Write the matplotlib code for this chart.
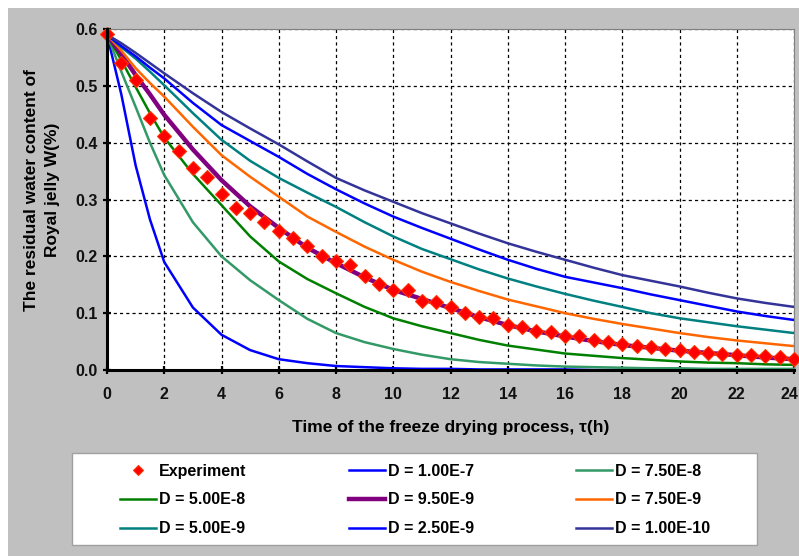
import matplotlib
matplotlib.use("Agg")
import matplotlib.pyplot as plt
import matplotlib.transforms as mtransforms
from matplotlib.patches import Rectangle

# --- DATA ---
hours = [0, 0.5, 1, 1.5, 2, 3, 4, 5, 6, 7, 8, 9, 10, 11, 12,
         13, 14, 15, 16, 17, 18, 19, 20, 21, 22, 23, 24]

w_d_1e7 = [0.590, 0.485, 0.360, 0.265, 0.190, 0.110, 0.062, 0.035, 0.019, 0.012, 0.007, 0.005, 0.003, 0.002,
           0.002, 0.001, 0.001, 0.001, 0.001, 0.000, 0.000, 0.000, 0.000, 0.000, 0.000, 0.000, 0.000]
w_d_75e8 = [0.590, 0.525, 0.463, 0.400, 0.343, 0.260, 0.200, 0.158, 0.123, 0.090, 0.065, 0.049, 0.037, 0.027,
            0.019, 0.014, 0.011, 0.008, 0.006, 0.005, 0.004, 0.003, 0.003, 0.002, 0.002, 0.002, 0.002]
w_d_5e8 = [0.590, 0.545, 0.498, 0.452, 0.409, 0.345, 0.290, 0.235, 0.191, 0.160, 0.135, 0.111, 0.091, 0.077,
           0.065, 0.053, 0.043, 0.036, 0.029, 0.025, 0.021, 0.018, 0.015, 0.013, 0.012, 0.010, 0.009]
w_d_95e9 = [0.590, 0.556, 0.519, 0.485, 0.449, 0.388, 0.334, 0.288, 0.250, 0.215, 0.188, 0.163, 0.141, 0.125,
            0.109, 0.093, 0.079, 0.068, 0.059, 0.051, 0.044, 0.039, 0.034, 0.030, 0.026, 0.022, 0.019]
w_d_75e9 = [0.590, 0.562, 0.531, 0.505, 0.481, 0.428, 0.378, 0.340, 0.305, 0.270, 0.243, 0.217, 0.194, 0.173,
            0.155, 0.139, 0.124, 0.112, 0.100, 0.090, 0.081, 0.073, 0.065, 0.058, 0.052, 0.047, 0.042]
w_d_5e9 = [0.590, 0.568, 0.548, 0.525, 0.501, 0.452, 0.405, 0.368, 0.338, 0.312, 0.287, 0.260, 0.235, 0.213,
           0.195, 0.177, 0.161, 0.147, 0.134, 0.122, 0.111, 0.100, 0.091, 0.084, 0.077, 0.071, 0.065]
w_d_25e9 = [0.590, 0.570, 0.552, 0.532, 0.513, 0.470, 0.431, 0.403, 0.375, 0.345, 0.318, 0.293, 0.270, 0.250,
            0.231, 0.212, 0.194, 0.178, 0.164, 0.154, 0.144, 0.133, 0.123, 0.113, 0.103, 0.095, 0.088]
w_d_1e10 = [0.590, 0.575, 0.558, 0.540, 0.522, 0.487, 0.454, 0.425, 0.397, 0.367, 0.338, 0.316, 0.296, 0.276,
            0.258, 0.240, 0.223, 0.208, 0.194, 0.180, 0.167, 0.157, 0.147, 0.136, 0.126, 0.118, 0.111]

exp_hours = [0, 0.5, 1, 1.5, 2, 2.5, 3, 3.5, 4, 4.5, 5, 5.5, 6, 6.5, 7, 7.5, 8, 8.5, 9, 9.5, 10,
             10.5, 11, 11.5, 12, 12.5, 13, 13.5, 14, 14.5, 15, 15.5, 16, 16.5, 17, 17.5, 18,
             18.5, 19, 19.5, 20, 20.5, 21, 21.5, 22, 22.5, 23, 23.5, 24]
exp_w = [0.591, 0.541, 0.510, 0.443, 0.412, 0.386, 0.355, 0.340, 0.310, 0.285, 0.276, 0.261, 0.245,
         0.232, 0.219, 0.201, 0.191, 0.184, 0.166, 0.151, 0.140, 0.141, 0.122, 0.120, 0.111, 0.100,
         0.094, 0.092, 0.080, 0.076, 0.069, 0.067, 0.060, 0.059, 0.052, 0.050, 0.045, 0.042, 0.040,
         0.037, 0.035, 0.032, 0.030, 0.028, 0.026, 0.026, 0.024, 0.022, 0.019]

labels = ["D = 1.00E-7", "D = 7.50E-8", "D = 5.00E-8", "D = 9.50E-9",
          "D = 7.50E-9", "D = 5.00E-9", "D = 2.50E-9", "D = 1.00E-10"]
series = [w_d_1e7, w_d_75e8, w_d_5e8, w_d_95e9, w_d_75e9, w_d_5e9, w_d_25e9, w_d_1e10]
colors = ["#0000FF", "#339966", "#008000", "#800080", "#FF6600", "#008080", "#0000FF", "#333399"]
widths = [1.8, 1.8, 1.8, 3.2, 1.8, 1.8, 1.8, 1.8]

x_ticks = [0, 2, 4, 6, 8, 10, 12, 14, 16, 18, 20, 22, 24]
y_ticks = [0.0, 0.1, 0.2, 0.3, 0.4, 0.5, 0.6]

# --- FIGURE ---
W, H = 799, 556
fig = plt.figure(figsize=(W / 100, H / 100), dpi=100)
fig.patch.set_facecolor("white")
fig.patches.append(Rectangle((8 / W, 0), 1, (H - 8) / H, transform=fig.transFigure,
                             facecolor="#c0c0c0", edgecolor="none", zorder=-10))

ax = fig.add_axes([107 / W, 1 - 370 / H, (794 - 107) / W, (370 - 29) / H])
ax.set_facecolor("white")

handles = []
for w, lab, c, lw in zip(series, labels, colors, widths):
    h, = ax.plot(hours, w, color=c, lw=lw, label=lab, zorder=3)
    handles.append(h)

exp_h, = ax.plot(exp_hours, exp_w, linestyle="none", marker="D", markersize=6.8,
                 markerfacecolor="#FF0000", markeredgecolor="#FF3300", markeredgewidth=0.8,
                 label="Experiment", zorder=5, clip_on=False)

ax.set_xlim(0, 24)
ax.set_ylim(0, 0.6)
ax.set_xticks(x_ticks)
ax.set_yticks(y_ticks)
ax.set_xticklabels([str(v) for v in x_ticks])
ax.set_yticklabels([f"{v:.1f}" for v in y_ticks])

ax.grid(True, color="black", lw=0.9, linestyle=(0, (2.5, 2.5)), zorder=1)
ax.set_axisbelow(True)

for s in ["top", "right"]:
    ax.spines[s].set_color("#808080")
    ax.spines[s].set_linewidth(0.8)
for s in ["left", "bottom"]:
    ax.spines[s].set_color("black")
    ax.spines[s].set_linewidth(2.2)
    ax.spines[s].set_zorder(6)

ax.tick_params(axis="both", direction="inout", length=6, width=1.6, color="black",
               labelcolor="#111111")
ax.tick_params(axis="x", pad=9)
ax.tick_params(axis="y", pad=4)
for lab in ax.get_xticklabels() + ax.get_yticklabels():
    lab.set_fontfamily("Liberation Sans")
    lab.set_fontweight("bold")
    lab.set_fontsize(11.5)
# last x label sits at the very edge of the picture; nudge it in a little
last = ax.get_xticklabels()[-1]
last.set_transform(last.get_transform() + mtransforms.ScaledTranslation(-5 / 100, 0, fig.dpi_scale_trans))

ax.set_xlabel("Time of the freeze drying process, τ(h)", fontfamily="Liberation Sans",
              fontweight="bold", fontsize=12.5, labelpad=13)
fig.text(42 / W, 1 - 190 / H, "The residual water content of\nRoyal jelly W(%)",
         rotation=90, ha="center", va="center", multialignment="center",
         fontfamily="Liberation Sans", fontweight="bold", fontsize=12.5, linespacing=1.5)

# --- LEGEND (white box, entries filled row by row) ---
fig.patches.append(Rectangle((72 / W, 1 - 545 / H), (757 - 72) / W, (545 - 453) / H,
                             transform=fig.transFigure, facecolor="white",
                             edgecolor="#a0a0a0", lw=1, zorder=1))
all_handles = [exp_h] + handles
order = [0, 3, 6, 1, 4, 7, 2, 5, 8]
leg = fig.legend([all_handles[i] for i in order],
                 [all_handles[i].get_label() for i in order],
                 ncol=3, loc="center left", bbox_to_anchor=(120 / W, 1 - 500 / H),
                 frameon=False, borderpad=0, borderaxespad=0,
                 handlelength=2.25, handletextpad=0.2, columnspacing=6.4,
                 labelspacing=0.86, markerscale=0.75,
                 prop={"family": "Liberation Sans", "weight": "bold", "size": 11.5})
leg.set_zorder(5)

fig.savefig("out.png", dpi=100, facecolor=fig.get_facecolor())
